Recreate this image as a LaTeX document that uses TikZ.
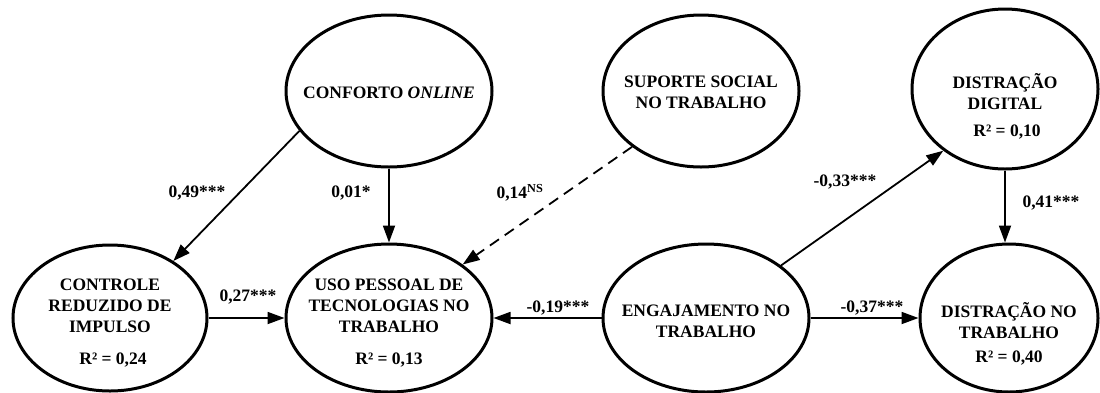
\documentclass[tikz,border=0pt]{standalone}
\usepackage{fontspec}
\setmainfont{Liberation Serif}
\usetikzlibrary{arrows.meta,shapes.geometric}
\tikzset{
  lat/.style={ellipse,draw,line width=3pt,inner sep=0pt},
  txt/.style={font=\bfseries\fontsize{17.5}{21}\selectfont,align=center,inner sep=0pt},
  coef/.style={font=\bfseries\fontsize{17.5}{21}\selectfont,inner sep=0pt},
  arr/.style={line width=1.8pt,-{Triangle[length=17pt,width=12pt]}},
}
\begin{document}
\begin{tikzpicture}[x=1pt,y=-1pt]
\useasboundingbox (0,0) rectangle (1100,392);
% latent variables
\node[lat,minimum width=206pt,minimum height=152pt] (conf) at (389,91) {};
\node[txt] (conft) at (389,93) {CONFORTO \textit{ONLINE}};
\node[lat,minimum width=196pt,minimum height=152pt] (sup) at (701,91) {};
\node[txt] (supt) at (701,92) {SUPORTE SOCIAL\\NO TRABALHO};
\node[lat,minimum width=186pt,minimum height=160pt] (dig) at (1005,89) {};
\node[txt] (digt) at (1005,92) {DISTRAÇÃO\\DIGITAL};
\node[txt] (digr) at (1007,132) {R² = 0,10};
\node[lat,minimum width=194pt,minimum height=146pt] (ctrl) at (110,318) {};
\node[txt] (ctrlt) at (110,306) {CONTROLE\\REDUZIDO DE\\IMPULSO};
\node[txt] (ctrlr) at (113,360) {R² = 0,24};
\node[lat,minimum width=206pt,minimum height=148pt] (uso) at (389,318) {};
\node[txt] (usot) at (389,306) {USO PESSOAL DE\\TECNOLOGIAS NO\\TRABALHO};
\node[txt] (usor) at (389,360) {R² = 0,13};
\node[lat,minimum width=206pt,minimum height=148pt] (eng) at (706,318) {};
\node[txt] (engt) at (706,321) {ENGAJAMENTO NO\\TRABALHO};
\node[lat,minimum width=178pt,minimum height=148pt] (dtr) at (1009,318) {};
\node[txt] (dtrt) at (1009,321) {DISTRAÇÃO NO\\TRABALHO};
\node[txt] (dtrr) at (1009,358) {R² = 0,40};
% paths
\draw[arr] (conf.204) -- (ctrl.42);
\draw[arr] (conf) -- (uso);
\draw[arr,dash pattern=on 11pt off 7pt] (sup.219.5) -- (uso.36.7);
\draw[arr] (ctrl) -- (uso);
\draw[arr] (eng) -- (uso);
\draw[arr] (eng) -- (dtr);
\draw[arr] (eng.35.6) -- (dig.225.5);
\draw[arr] (dig.south) -- (dig.south |- dtr.north);
% coefficients
\node[coef] (c1) at (197,193) {0,49***};
\node[coef] (c2) at (351,193) {0,01*};
\node[coef] (c3) at (520,193) {0,14\textsuperscript{NS}};
\node[coef] (c4) at (845,182) {-0,33***};
\node[coef] (c5) at (1051,203) {0,41***};
\node[coef] (c6) at (248,297) {0,27***};
\node[coef] (c7) at (558,308) {-0,19***};
\node[coef] (c8) at (872,308) {-0,37***};
\end{tikzpicture}
\end{document}
